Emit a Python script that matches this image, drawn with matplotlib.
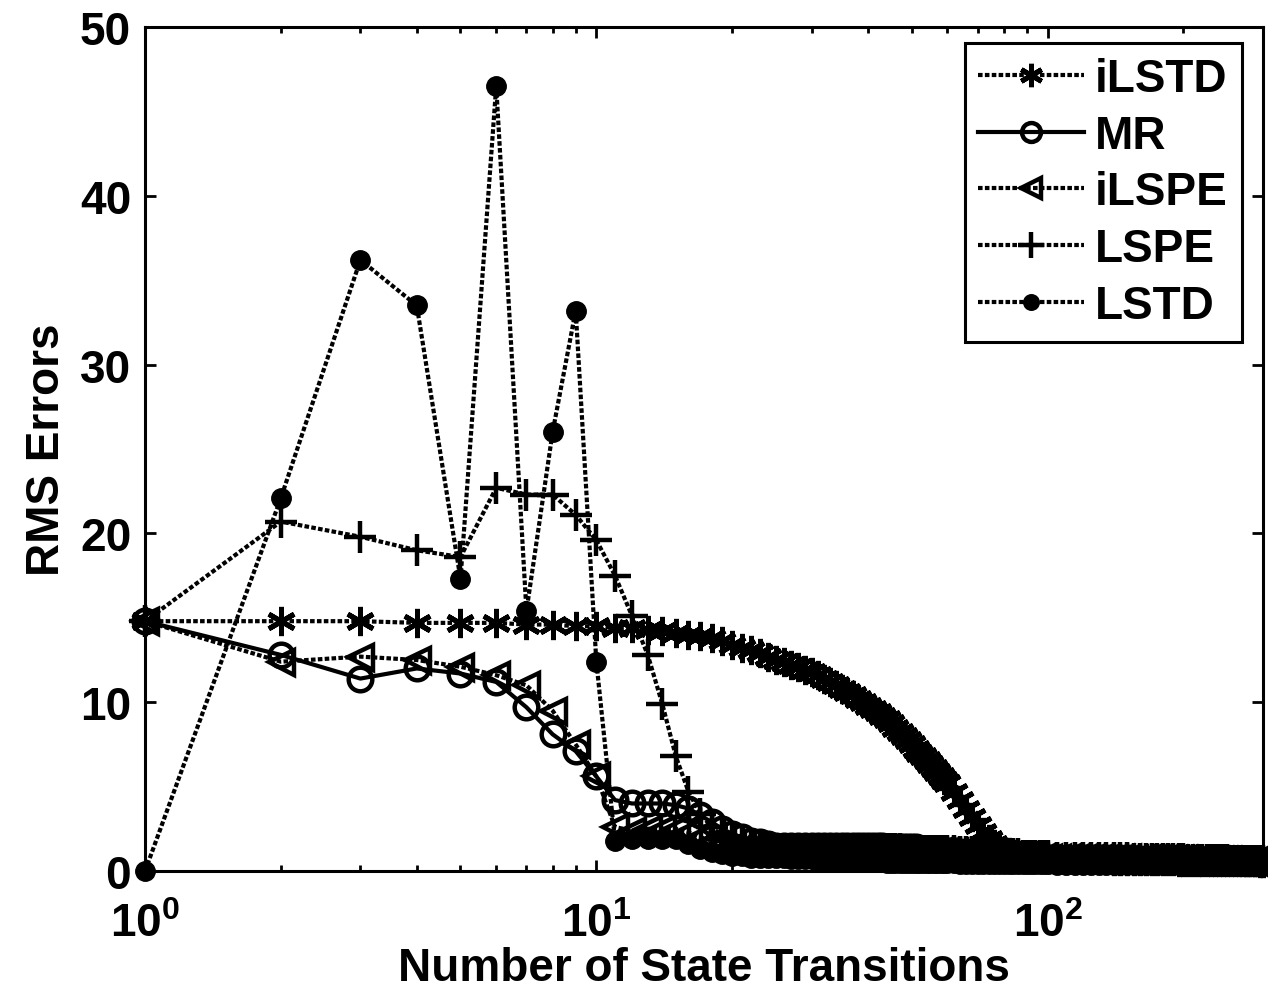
import numpy as np
import matplotlib.pyplot as plt

plt.rcParams['font.family'] = ['Liberation Sans', 'DejaVu Sans']
plt.rcParams['font.weight'] = 'bold'
plt.rcParams['mathtext.fontset'] = 'custom'
plt.rcParams['mathtext.rm'] = 'Liberation Sans:bold'
plt.rcParams['mathtext.bf'] = 'Liberation Sans:bold'
plt.rcParams['mathtext.it'] = 'Liberation Sans:bold'

# number of state transitions (sampled more sparsely in the long tail)
steps = list(range(1, 61)) + list(range(62, 101, 2)) + list(range(105, 301, 5))

# RMS errors
ilstd = [14.8, 14.8, 14.8, 14.7, 14.7, 14.7, 14.6, 14.6, 14.5, 14.5,
         14.4, 14.4, 14.3, 14.2, 14.1, 14.0, 13.9, 13.8, 13.6, 13.4,
         13.2, 13.1, 12.9, 12.7, 12.5, 12.4, 12.2, 12.1, 11.9, 11.8,
         11.6, 11.4, 11.2, 11.0, 10.8, 10.6, 10.4, 10.2, 10.0, 9.8,
         9.6, 9.4, 9.2, 9.0, 8.75, 8.5, 8.25, 8.0, 7.75, 7.5,
         7.25, 7.0, 6.8, 6.6, 6.35, 6.1, 5.85, 5.6, 5.4, 5.2,
         4.7, 4.2, 3.7, 3.2, 2.7, 2.3, 1.9, 1.6, 1.4, 1.2,
         1.1, 1.0, 0.95, 0.9, 0.85, 0.8, 0.8, 0.75, 0.75, 0.7,
         0.70, 0.68, 0.67, 0.66, 0.65, 0.64, 0.63, 0.62, 0.62, 0.61,
         0.60, 0.60, 0.59, 0.59, 0.58, 0.58, 0.57, 0.57, 0.56, 0.56,
         0.56, 0.55, 0.55, 0.55, 0.54, 0.54, 0.54, 0.53, 0.53, 0.53,
         0.52, 0.52, 0.52, 0.52, 0.51, 0.51, 0.51, 0.51, 0.50, 0.50]

mr = [14.8, 12.8, 11.4, 12.0, 11.7, 11.2, 9.7, 8.1, 7.1, 5.6,
      4.2, 4.0, 4.0, 4.0, 3.9, 3.7, 3.3, 2.9, 2.5, 2.2,
      2.0, 1.8, 1.7, 1.6, 1.5, 1.5, 1.5, 1.5, 1.5, 1.5,
      1.5, 1.5, 1.5, 1.5, 1.5, 1.5, 1.5, 1.5, 1.5, 1.5,
      1.5, 1.5, 1.5, 1.4, 1.4, 1.4, 1.4, 1.4, 1.4, 1.4,
      1.4, 1.3, 1.3, 1.3, 1.3, 1.3, 1.3, 1.2, 1.2, 1.2,
      1.2, 1.1, 1.1, 1.1, 1.0, 1.0, 1.0, 1.0, 0.9, 0.9,
      0.9, 0.9, 0.9, 0.85, 0.85, 0.85, 0.8, 0.8, 0.8, 0.8,
      0.8, 0.8, 0.8, 0.8, 0.8, 0.75, 0.75, 0.75, 0.75, 0.75,
      0.7, 0.7, 0.7, 0.7, 0.7, 0.7, 0.7, 0.7, 0.7, 0.7,
      0.65, 0.65, 0.65, 0.65, 0.65, 0.65, 0.65, 0.65, 0.65, 0.65,
      0.6, 0.6, 0.6, 0.6, 0.6, 0.6, 0.6, 0.6, 0.6, 0.6]

ilspe = [14.8, 12.4, 12.7, 12.5, 12.1, 11.6, 11.0, 9.5, 7.5, 5.6,
         2.6, 2.4, 2.5, 2.5, 2.5, 2.3, 2.0, 1.8, 1.6, 1.5,
         1.4, 1.3, 1.3, 1.2, 1.2, 1.2, 1.2, 1.2, 1.2, 1.2,
         1.2, 1.2, 1.2, 1.2, 1.2, 1.2, 1.2, 1.2, 1.2, 1.2,
         1.2, 1.2, 1.2, 1.2, 1.2, 1.2, 1.2, 1.1, 1.1, 1.1,
         1.1, 1.1, 1.1, 1.1, 1.1, 1.1, 1.1, 1.1, 1.1, 1.1,
         1.1, 1.0, 1.0, 1.0, 1.0, 1.0, 1.0, 1.0, 1.0, 0.9,
         0.9, 0.9, 0.9, 0.9, 0.9, 0.8, 0.8, 0.8, 0.8, 0.8,
         0.75, 0.75, 0.75, 0.75, 0.75, 0.75, 0.75, 0.75, 0.75, 0.75,
         0.7, 0.7, 0.7, 0.7, 0.7, 0.7, 0.7, 0.7, 0.7, 0.7,
         0.65, 0.65, 0.65, 0.65, 0.65, 0.65, 0.65, 0.65, 0.65, 0.65,
         0.6, 0.6, 0.6, 0.6, 0.6, 0.6, 0.6, 0.6, 0.6, 0.6]

lspe = [14.8, 20.7, 19.8, 19.0, 18.6, 22.7, 22.3, 22.3, 21.1, 19.6,
        17.5, 15.1, 12.8, 9.9, 6.8, 4.7, 3.4, 2.6, 2.1, 1.8,
        1.6, 1.5, 1.4, 1.4, 1.3, 1.3, 1.3, 1.3, 1.3, 1.3,
        1.3, 1.3, 1.3, 1.3, 1.3, 1.3, 1.3, 1.3, 1.3, 1.3,
        1.3, 1.3, 1.3, 1.3, 1.3, 1.3, 1.3, 1.2, 1.2, 1.2,
        1.2, 1.2, 1.2, 1.2, 1.2, 1.2, 1.2, 1.2, 1.2, 1.2,
        1.2, 1.1, 1.1, 1.1, 1.1, 1.1, 1.1, 1.0, 1.0, 1.0,
        1.0, 1.0, 1.0, 0.9, 0.9, 0.9, 0.9, 0.9, 0.9, 0.9,
        0.8, 0.8, 0.8, 0.8, 0.8, 0.8, 0.8, 0.8, 0.8, 0.8,
        0.7, 0.7, 0.7, 0.7, 0.7, 0.7, 0.7, 0.7, 0.7, 0.7,
        0.65, 0.65, 0.65, 0.65, 0.65, 0.65, 0.65, 0.65, 0.65, 0.65,
        0.6, 0.6, 0.6, 0.6, 0.6, 0.6, 0.6, 0.6, 0.6, 0.6]

lstd = [0.0, 22.1, 36.2, 33.5, 17.3, 46.5, 15.4, 26.0, 33.2, 12.4,
        1.8, 1.9, 1.9, 1.9, 1.9, 1.6, 1.3, 1.1, 1.0, 0.9,
        0.9, 0.8, 0.8, 0.8, 0.8, 0.8, 0.7, 0.7, 0.7, 0.7,
        0.6, 0.6, 0.6, 0.6, 0.6, 0.6, 0.6, 0.6, 0.6, 0.6,
        0.6, 0.6, 0.6, 0.5, 0.5, 0.5, 0.5, 0.5, 0.5, 0.5,
        0.5, 0.5, 0.5, 0.5, 0.5, 0.5, 0.5, 0.5, 0.5, 0.5,
        0.5, 0.4, 0.4, 0.4, 0.4, 0.4, 0.4, 0.4, 0.4, 0.4,
        0.4, 0.4, 0.4, 0.4, 0.4, 0.4, 0.4, 0.4, 0.4, 0.4,
        0.35, 0.35, 0.35, 0.35, 0.35, 0.35, 0.35, 0.35, 0.35, 0.35,
        0.35, 0.35, 0.35, 0.35, 0.35, 0.35, 0.35, 0.35, 0.35, 0.35,
        0.35, 0.35, 0.35, 0.35, 0.35, 0.35, 0.35, 0.35, 0.35, 0.35,
        0.35, 0.35, 0.35, 0.35, 0.35, 0.35, 0.35, 0.35, 0.35, 0.35]

fig = plt.figure(figsize=(12.68, 9.95), dpi=100)
ax = fig.add_axes([0.1144, 0.1236, 0.8816, 0.8483])

dotted = (0, (1.1, 0.55))
ax.plot(steps, ilstd, ls=dotted, lw=3, color='k', marker=(6, 2, 0), ms=21,
        mew=3.6, label='iLSTD', clip_on=False)
ax.plot(steps, mr, ls='-', lw=3, color='k', marker='o', ms=17, mfc='none',
        mew=3.2, label='MR', clip_on=False)
ax.plot(steps, ilspe, ls=dotted, lw=3, color='k', marker='<', ms=18, mfc='none',
        mew=3.2, label='iLSPE', clip_on=False)
ax.plot(steps, lspe, ls=dotted, lw=3, color='k', marker='+', ms=23,
        mew=3.2, label='LSPE', clip_on=False)
ax.plot(steps, lstd, ls=dotted, lw=3, color='k', marker='o', ms=14,
        mew=1, label='LSTD', clip_on=False)

ax.set_xscale('log')
ax.set_xlim(1, 300)
ax.set_ylim(0, 50)
ax.set_yticks([0, 10, 20, 30, 40, 50])

for s in ax.spines.values():
    s.set_linewidth(2.2)
ax.tick_params(which='both', direction='in', top=True, right=True, width=2,
               labelsize=33)
ax.tick_params(which='major', length=8)
ax.tick_params(which='minor', length=4)
ax.tick_params(axis='y', pad=10)
ax.tick_params(axis='x', pad=22)

ax.set_xlabel('Number of State Transitions', fontsize=33, fontweight='bold', labelpad=0)
ax.set_ylabel('RMS Errors', fontsize=33, fontweight='bold', labelpad=8)

leg = ax.legend(loc='upper right', bbox_to_anchor=(0.981, 0.981), borderaxespad=0,
                fontsize=33, handlelength=2.3, handletextpad=0.25, labelspacing=0.28,
                borderpad=0.3, fancybox=False, framealpha=1, edgecolor='k',
                markerscale=0.8)
leg.get_frame().set_linewidth(2.2)

fig.savefig('out.png', dpi=100)
